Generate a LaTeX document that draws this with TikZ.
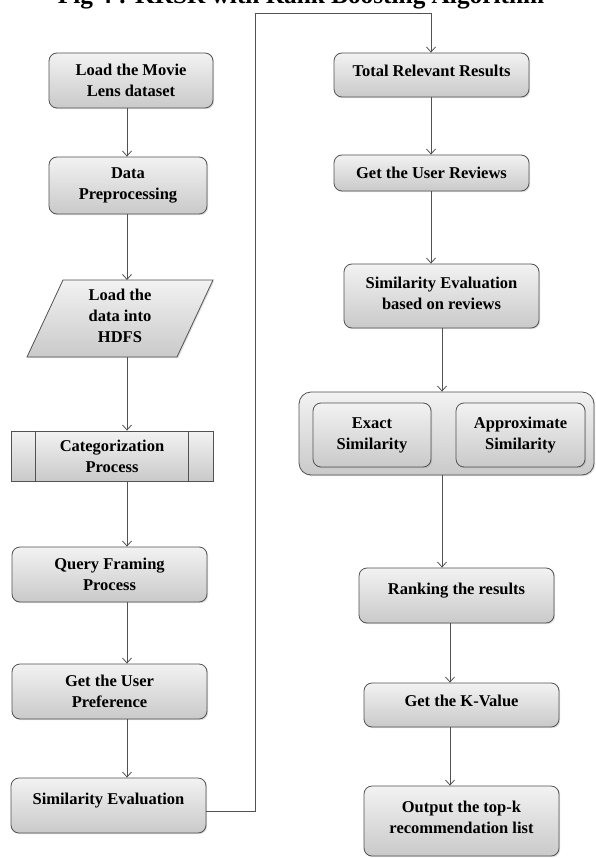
\documentclass[tikz,border=0pt]{standalone}
\usepackage{fontspec}
\setmainfont{Liberation Serif}
\usetikzlibrary{arrows.meta,shadows}
\tikzset{
  look/.style={draw=black!68, line width=0.8pt, top color=gray!10, bottom color=gray!42,
    drop shadow={opacity=0.25, shadow xshift=1.2pt, shadow yshift=-1.2pt}},
  lbl/.style={align=center, inner sep=0pt, font=\bfseries\fontsize{16.5}{21}\selectfont},
  box/.style={look, lbl, rounded corners=8pt},
  arr/.style={draw=black!68, line width=0.8pt, -{Straight Barb[length=5pt,width=9pt]}},
  plain/.style={draw=black!68, line width=0.8pt},
}
\begin{document}
\begin{tikzpicture}[x=1pt,y=-1pt]
\path[use as bounding box] (0,0) rectangle (595,858);
\clip (0,0) rectangle (595,858);
\fill[white] (0,0) rectangle (595,858);
% title (cut at the top)
\node[anchor=base, inner sep=0pt, font=\bfseries\fontsize{25.3}{30}\selectfont] (title) at (301,4) {Fig 4 : KRSR with Rank Boosting Algorithm};
% left column
\node[box, minimum width=164pt, minimum height=55pt] (b1) at (131,80.5) {Load the Movie\\Lens dataset};
\node[box, minimum width=158pt, minimum height=57pt] (b2) at (128,185.5) {Data\\Preprocessing};
\path[look, line join=miter] (63,280) -- (213,280) -- (177,357) -- (27,357) -- cycle;
\node[lbl] (b3) at (120,316) {Load the\\data into\\HDFS};
\coordinate (b3t) at (127,280);
\coordinate (b3b) at (127,357);
\node[box, rounded corners=0pt, minimum width=202pt, minimum height=50pt] (b4) at (112,456) {Categorization\\Process};
\draw[plain] ([xshift=25pt]b4.north west) -- ([xshift=25pt]b4.south west);
\draw[plain] ([xshift=-25pt]b4.north east) -- ([xshift=-25pt]b4.south east);
\node[box, minimum width=195pt, minimum height=55pt] (b5) at (109.5,574.5) {Query Framing\\Process};
\node[box, minimum width=195pt, minimum height=55pt] (b6) at (109.5,691.5) {Get the User\\Preference};
\node[box, minimum width=195pt, minimum height=55pt] (b7) at (108.5,805.5) {};
\node[lbl] (b7t) at ([yshift=5pt]b7.center) {Similarity Evaluation};
% right column
\node[box, minimum width=195pt, minimum height=44pt] (b8) at (431.5,75) {};
\node[lbl] (b8t) at ([yshift=4pt]b8.center) {Total Relevant Results};
\node[box, minimum width=195pt, minimum height=36pt] (b9) at (431.5,173) {Get the User Reviews};
\node[box, minimum width=195pt, minimum height=64pt] (b10) at (441.5,296) {};
\node[lbl] (b10t) at ([yshift=3pt]b10.center) {Similarity Evaluation\\based on reviews};
\node[box, rounded corners=12pt, minimum width=295pt, minimum height=83pt] (b11) at (446.5,433.5) {};
\node[box, minimum width=118pt, minimum height=64pt] (ex) at (372,435) {Exact\\Similarity};
\node[box, minimum width=129pt, minimum height=64pt] (ap) at (520.5,435) {Approximate\\Similarity};
\node[box, minimum width=195pt, minimum height=55pt] (b12) at (456.5,595.5) {};
\node[lbl] (b12t) at ([yshift=5pt]b12.center) {Ranking the results};
\node[box, minimum width=195pt, minimum height=44pt] (b13) at (461.5,705) {};
\node[lbl] (b13t) at ([yshift=4pt]b13.center) {Get the K-Value};
\node[box, minimum width=195pt, minimum height=70pt] (b14) at (461.5,821) {};
\node[lbl] (b14t) at ([yshift=3.5pt]b14.center) {Output the top-k\\recommendation list};
% connectors
\coordinate (xL) at (127,0);
\coordinate (xR1) at (431,0);
\coordinate (xR2) at (442,0);
\coordinate (xR3) at (450,0);
\coordinate (turn) at (255,13);
\draw[arr] (b1.south -| xL) -- (b2.north -| xL);
\draw[arr] (b2.south -| xL) -- (b3t);
\draw[arr] (b3b) -- (b4.north -| xL);
\draw[arr] (b4.south -| xL) -- (b5.north -| xL);
\draw[arr] (b5.south -| xL) -- (b6.north -| xL);
\draw[arr] (b6.south -| xL) -- (b7.north -| xL);
\draw[arr] ([yshift=-5.5pt]b7.east) -| (turn) -| (b8.north -| xR1);
\draw[arr] (b8.south -| xR1) -- (b9.north -| xR1);
\draw[arr] (b9.south -| xR1) -- (b10.north -| xR1);
\draw[arr] (b10.south -| xR2) -- (b11.north -| xR2);
\draw[arr] (b11.south -| xR2) -- (b12.north -| xR2);
\draw[arr] (b12.south -| xR3) -- (b13.north -| xR3);
\draw[arr] (b13.south -| xR3) -- (b14.north -| xR3);
\end{tikzpicture}
\end{document}
